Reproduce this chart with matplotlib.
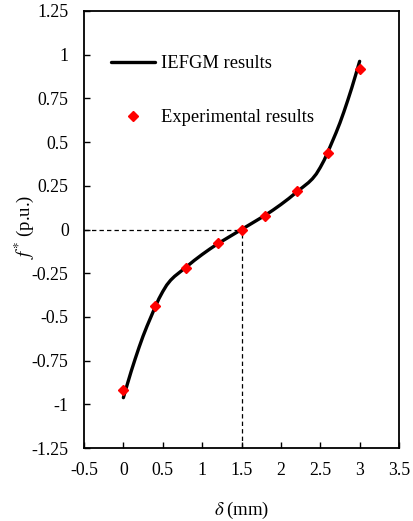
import matplotlib
matplotlib.use("Agg")
import matplotlib.pyplot as plt

# Data
curve_x = [0.0, 0.05, 0.1, 0.15, 0.2, 0.25, 0.3, 0.35, 0.4, 0.45, 0.5, 0.55, 0.6, 0.65,
           0.7, 0.75, 0.8, 0.9, 1.0, 1.1, 1.2, 1.3, 1.4, 1.5,
           1.6, 1.7, 1.8, 1.9, 2.0, 2.1, 2.2, 2.25, 2.3, 2.35, 2.4, 2.45, 2.5, 2.55,
           2.6, 2.65, 2.7, 2.75, 2.8, 2.85, 2.9, 2.95, 3.0]
curve_y = [-0.962, -0.885, -0.81, -0.74, -0.673, -0.61, -0.553, -0.50, -0.447, -0.397,
           -0.355, -0.318, -0.29, -0.268, -0.25, -0.232, -0.214, -0.177, -0.143, -0.111,
           -0.081, -0.054, -0.027, 0.0,
           0.027, 0.054, 0.081, 0.111, 0.143, 0.177, 0.214, 0.232, 0.25, 0.268, 0.29,
           0.318, 0.355, 0.397, 0.447, 0.50, 0.553, 0.61, 0.673, 0.74, 0.81, 0.885, 0.962]
exp_x = [0.0, 0.4, 0.8, 1.2, 1.5, 1.8, 2.2, 2.6, 3.0]
exp_y = [-0.92, -0.44, -0.22, -0.08, 0.0, 0.08, 0.22, 0.44, 0.92]
x_ticks = [-0.5, 0, 0.5, 1, 1.5, 2, 2.5, 3, 3.5]
x_ticklabels = ["-0.5", "0", "0.5", "1", "1.5", "2", "2.5", "3", "3.5"]
y_ticks = [-1.25, -1, -0.75, -0.5, -0.25, 0, 0.25, 0.5, 0.75, 1, 1.25]
y_ticklabels = ["-1.25", "-1", "-0.75", "-0.5", "-0.25", "0", "0.25", "0.5", "0.75", "1", "1.25"]
ref_x = 1.5
ref_y = 0.0

plt.rcParams['font.family'] = ['Liberation Serif', 'DejaVu Serif']
plt.rcParams['mathtext.fontset'] = 'stix'

fig = plt.figure(figsize=(4.14, 5.21), dpi=100)
ax = fig.add_axes([0.2029, 0.1401, 0.7609, 0.8388])

ax.plot([x_ticks[0], ref_x], [ref_y, ref_y], color='black', lw=0.9, ls=(0, (3.5, 2.5)), zorder=1)
ax.plot([ref_x, ref_x], [y_ticks[0], ref_y], color='black', lw=0.9, ls=(0, (3.5, 2.5)), zorder=1)

ax.plot(curve_x, curve_y, color='black', lw=2.4, label='IEFGM results', zorder=2,
        solid_capstyle='round', solid_joinstyle='round')
ax.plot(exp_x, exp_y, ls='none', marker='D', color='red', markersize=5.5,
        label='Experimental results', zorder=3)

ax.set_xlim(x_ticks[0], x_ticks[-1])
ax.set_ylim(y_ticks[0], y_ticks[-1])
ax.set_xticks(x_ticks)
ax.set_xticklabels(x_ticklabels)
ax.set_yticks(y_ticks)
ax.set_yticklabels(y_ticklabels)
ax.tick_params(direction='in', length=4, width=1.0, labelsize=12.8)
ax.tick_params(axis='x', pad=10)
ax.tick_params(axis='y', pad=11)
for s in ax.spines.values():
    s.set_linewidth(1.3)

ax.set_xlabel(r'$\delta\;$(mm)', fontsize=13.5)
ax.set_ylabel(r'$f^{*}$ (p.u.)', fontsize=13.5)
ax.xaxis.set_label_coords(0.50, -0.118)
ax.yaxis.set_label_coords(-0.153, 0.505)

ax.legend(loc='upper left', bbox_to_anchor=(0.033, 0.937), frameon=False, fontsize=13.3,
          handlelength=2.4, handletextpad=0.3, labelspacing=2.02)

fig.savefig('out.png', dpi=100)
